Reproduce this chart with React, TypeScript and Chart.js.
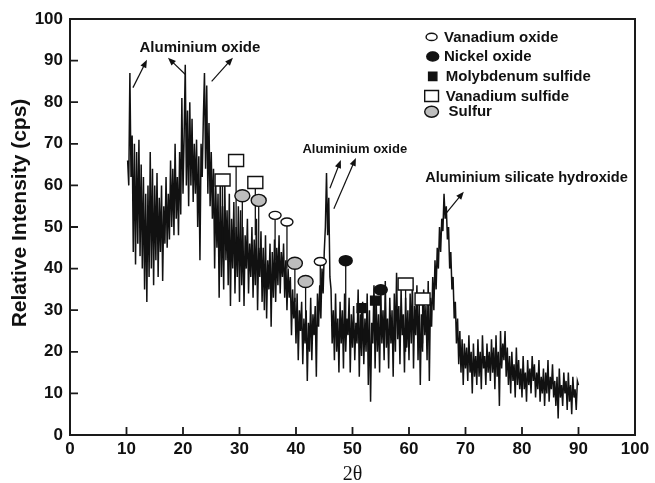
import { useEffect, useRef } from 'react';
import { Chart, registerables } from 'chart.js';

Chart.register(...registerables);

// Sampling grid of the scan (degrees 2θ)
const THETA_START = 10.2;
const THETA_STEP = 0.2;

// Relative intensity (cps), one row per 2°
const INTENSITY = [
  66, 60, 87, 62, 72, 44, 70, 41, 68, 46,
  71, 43, 65, 40, 62, 35, 58, 32, 60, 38,
  68, 40, 64, 36, 60, 42, 63, 38, 57, 44,
  60, 37, 55, 46, 62, 45, 58, 47, 66, 50,
  64, 48, 70, 52, 62, 48, 68, 53, 81, 58,
  72, 89, 60, 78, 55, 80, 60, 76, 56, 70,
  58, 71, 50, 67, 42, 70, 62, 76, 87, 64,
  84, 58, 75, 55, 68, 52, 64, 40, 60, 45,
  58, 33, 62, 38, 55, 35, 60, 42, 54, 36,
  58, 31, 52, 40, 56, 34, 50, 38, 55, 32,
  54, 36, 50, 31, 48, 40, 52, 34, 46, 38,
  50, 33, 47, 36, 52, 30, 45, 38, 49, 32,
  45, 30, 48, 28, 42, 35, 46, 26, 44, 33,
  47, 32, 45, 36, 48, 34, 44, 38, 46, 33,
  42, 30, 40, 33, 38, 24, 35, 28, 33, 22,
  34, 18, 30, 25, 32, 17, 28, 22, 30, 13,
  27, 20, 33, 18, 29, 24, 31, 14, 34, 26,
  36, 28, 40, 34, 44, 50, 63, 48, 57, 38,
  35, 22, 30, 18, 34, 20, 28, 15, 32, 22,
  30, 16, 34, 20, 28, 24, 33, 15, 29, 21,
  31, 18, 27, 22, 35, 14, 29, 19, 32, 17,
  28, 20, 34, 12, 30, 8, 27, 22, 36, 16,
  32, 20, 29, 15, 34, 22, 30, 18, 37, 21,
  28, 16, 33, 22, 30, 14, 34, 20, 39, 23,
  31, 17, 35, 24, 29, 15, 33, 21, 30, 18,
  34, 22, 37, 16, 31, 24, 36, 18, 32, 12,
  29, 20, 35, 24, 31, 18, 37, 13, 33, 26,
  38, 30, 42, 35, 45, 40, 50, 44, 52, 49,
  58, 52, 55, 47, 50, 40, 44, 35, 38, 28,
  32, 22, 28, 17, 25, 15, 23, 12, 22, 16,
  21, 13, 24, 15, 20, 10, 22, 14, 19, 12,
  23, 14, 20, 11, 24, 16, 19, 12, 22, 15,
  20, 13, 23, 15, 21, 11, 24, 14, 20, 7,
  25, 16, 22, 18, 25, 14, 21, 12, 19, 10,
  20, 13, 17, 9, 21, 12, 18, 11, 16, 9,
  19, 11, 15, 8, 18, 12, 16, 10, 19, 13,
  17, 9, 15, 11, 18, 8, 14, 10, 16, 7,
  15, 10, 18, 8, 14, 11, 17, 9, 13, 7,
  14, 4, 16, 9, 12, 7, 15, 10, 13, 6,
  15, 8, 12, 5, 14, 9, 11, 6, 13, 12,
];

const X_TICKS = [0, 10, 20, 30, 40, 50, 60, 70, 80, 90, 100];
const Y_TICKS = [0, 10, 20, 30, 40, 50, 60, 70, 80, 90, 100];

// Phase markers on the pattern
const MARKER_KIND = [
  'openSquare', 'openSquare', 'openSquare', 'grayEllipse', 'grayEllipse',
  'openEllipse', 'openEllipse', 'grayEllipse', 'grayEllipse', 'openEllipse',
  'filledEllipse', 'filledSquare', 'filledSquare', 'filledEllipse', 'openSquare', 'openSquare',
];
const MARKER_THETA = [27.0, 29.4, 32.8, 30.5, 33.4, 36.3, 38.4, 39.8, 41.7, 44.3, 48.8, 51.6, 54.0, 55.0, 59.4, 62.4];
const MARKER_VALUE = [61.3, 66.0, 60.7, 57.5, 56.4, 52.8, 51.2, 41.3, 36.9, 41.7, 41.9, 30.5, 32.3, 34.9, 36.3, 32.7];
const MARKER_STEM_END = [45, 46, 48, 45, 44, 42, 40, 32, 28, 33, 25, 22, 24, 25, 20, 22];

// Legend (drawn inside the plot)
const LEGEND_LABELS = ['Vanadium oxide', 'Nickel oxide', 'Molybdenum sulfide', 'Vanadium sulfide', 'Sulfur'];
const LEGEND_KIND = ['openEllipse', 'filledEllipse', 'filledSquare', 'openSquare', 'grayEllipse'];
const LEGEND_THETA = [64.0, 64.2, 64.2, 64.0, 64.0];
const LEGEND_VALUE = [95.7, 91.0, 86.2, 81.5, 77.7];
const LEGEND_TEXT_THETA = [66.2, 66.2, 66.5, 66.5, 67.0];

// Peak labels
const LABEL_TEXTS = ['Aluminium oxide', 'Aluminium oxide', 'Aluminium silicate hydroxide'];
const LABEL_THETA = [23.0, 50.4, 80.8];
const LABEL_VALUE = [93.1, 68.6, 61.75];
const LABEL_SIZE = [15, 13, 14.6];

// Arrows (tail -> head)
const ARROW_FROM_THETA = [11.14, 20.47, 25.07, 46.0, 46.7, 66.34];
const ARROW_FROM_VALUE = [83.5, 86.6, 85.0, 59.3, 54.4, 52.9];
const ARROW_TO_THETA = [13.62, 17.34, 28.83, 47.94, 50.6, 69.7];
const ARROW_TO_VALUE = [90.2, 90.7, 90.7, 66.1, 66.6, 58.5];

const SANS = '"Liberation Sans", Arial, Helvetica, sans-serif';
const SERIF = '"Liberation Serif", "Times New Roman", serif';
const INK = '#111';

const MARKER_SIZE: Record<string, [number, number]> = {
  openEllipse: [12, 8],
  filledEllipse: [13, 10],
  filledSquare: [9, 9],
  openSquare: [15, 12],
  grayEllipse: [15, 12],
};

function drawMarker(ctx: CanvasRenderingContext2D, kind: string, cx: number, cy: number, scale = 1) {
  const [w0, h0] = MARKER_SIZE[kind];
  const w = w0 * scale;
  const h = h0 * scale;
  ctx.save();
  ctx.lineWidth = 1.4;
  ctx.strokeStyle = INK;
  if (kind === 'openSquare' || kind === 'filledSquare') {
    ctx.beginPath();
    ctx.rect(cx - w / 2, cy - h / 2, w, h);
    ctx.fillStyle = kind === 'filledSquare' ? INK : '#fff';
    ctx.fill();
    ctx.stroke();
  } else {
    ctx.beginPath();
    ctx.ellipse(cx, cy, w / 2, h / 2, 0, 0, Math.PI * 2);
    ctx.fillStyle = kind === 'filledEllipse' ? INK : kind === 'grayEllipse' ? '#bdbdbd' : '#fff';
    ctx.fill();
    ctx.stroke();
  }
  ctx.restore();
  return h;
}

function drawArrow(ctx: CanvasRenderingContext2D, x1: number, y1: number, x2: number, y2: number) {
  const ang = Math.atan2(y2 - y1, x2 - x1);
  const len = 8;
  const half = 3.2;
  ctx.save();
  ctx.strokeStyle = INK;
  ctx.fillStyle = INK;
  ctx.lineWidth = 1.2;
  ctx.beginPath();
  ctx.moveTo(x1, y1);
  ctx.lineTo(x2 - Math.cos(ang) * len * 0.8, y2 - Math.sin(ang) * len * 0.8);
  ctx.stroke();
  ctx.beginPath();
  ctx.moveTo(x2, y2);
  ctx.lineTo(x2 - Math.cos(ang) * len - Math.sin(ang) * half, y2 - Math.sin(ang) * len + Math.cos(ang) * half);
  ctx.lineTo(x2 - Math.cos(ang) * len + Math.sin(ang) * half, y2 - Math.sin(ang) * len - Math.cos(ang) * half);
  ctx.closePath();
  ctx.fill();
  ctx.restore();
}

const overlayPlugin = {
  id: 'xrdOverlay',
  afterDatasetsDraw(chart: any) {
    const { ctx, chartArea } = chart;
    const xs = chart.scales.x;
    const ys = chart.scales.y;
    const { left, right, top, bottom } = chartArea;

    // stems + markers
    for (let i = 0; i < MARKER_KIND.length; i++) {
      const cx = xs.getPixelForValue(MARKER_THETA[i]);
      const cy = ys.getPixelForValue(MARKER_VALUE[i]);
      const h = MARKER_SIZE[MARKER_KIND[i]][1];
      const yEnd = ys.getPixelForValue(MARKER_STEM_END[i]);
      ctx.save();
      ctx.strokeStyle = INK;
      ctx.lineWidth = 1.3;
      ctx.beginPath();
      ctx.moveTo(cx, cy + h / 2);
      ctx.lineTo(cx, yEnd);
      ctx.stroke();
      ctx.restore();
      drawMarker(ctx, MARKER_KIND[i], cx, cy);
    }

    // arrows
    for (let i = 0; i < ARROW_FROM_THETA.length; i++) {
      drawArrow(
        ctx,
        xs.getPixelForValue(ARROW_FROM_THETA[i]),
        ys.getPixelForValue(ARROW_FROM_VALUE[i]),
        xs.getPixelForValue(ARROW_TO_THETA[i]),
        ys.getPixelForValue(ARROW_TO_VALUE[i]),
      );
    }

    // labels
    ctx.save();
    ctx.fillStyle = INK;
    ctx.textAlign = 'center';
    ctx.textBaseline = 'middle';
    for (let i = 0; i < LABEL_TEXTS.length; i++) {
      ctx.font = `bold ${LABEL_SIZE[i]}px ${SANS}`;
      ctx.fillText(LABEL_TEXTS[i], xs.getPixelForValue(LABEL_THETA[i]), ys.getPixelForValue(LABEL_VALUE[i]));
    }
    ctx.restore();

    // legend
    for (let i = 0; i < LEGEND_LABELS.length; i++) {
      const cy = ys.getPixelForValue(LEGEND_VALUE[i]);
      drawMarker(ctx, LEGEND_KIND[i], xs.getPixelForValue(LEGEND_THETA[i]), cy, 0.92);
      ctx.save();
      ctx.fillStyle = INK;
      ctx.font = `bold 15px ${SANS}`;
      ctx.textAlign = 'left';
      ctx.textBaseline = 'middle';
      ctx.fillText(LEGEND_LABELS[i], xs.getPixelForValue(LEGEND_TEXT_THETA[i]), cy + 0.5);
      ctx.restore();
    }

    // frame
    ctx.save();
    ctx.strokeStyle = '#1a1a1a';
    ctx.lineWidth = 2;
    ctx.strokeRect(left, top, right - left, bottom - top);

    // inward ticks
    ctx.lineWidth = 1.8;
    ctx.beginPath();
    for (const v of X_TICKS) {
      if (v === 0 || v === 100) continue;
      const px = xs.getPixelForValue(v);
      ctx.moveTo(px, bottom);
      ctx.lineTo(px, bottom - 8);
    }
    for (const v of Y_TICKS) {
      if (v === 0 || v === 100) continue;
      const py = ys.getPixelForValue(v);
      ctx.moveTo(left, py);
      ctx.lineTo(left + 8, py);
    }
    ctx.stroke();
    ctx.restore();

    // axis titles
    ctx.save();
    ctx.fillStyle = INK;
    ctx.textAlign = 'center';
    ctx.textBaseline = 'middle';
    ctx.font = `20px ${SERIF}`;
    ctx.fillText('2θ', (left + right) / 2, 475);
    ctx.translate(20, 213);
    ctx.rotate(-Math.PI / 2);
    ctx.font = `bold 21px ${SANS}`;
    ctx.fillText('Relative Intensity (cps)', 0, 0);
    ctx.restore();
  },
};

export default function App() {
  const canvasRef = useRef<HTMLCanvasElement | null>(null);

  useEffect(() => {
    const canvas = canvasRef.current;
    if (!canvas) return;
    const points = INTENSITY.map((y, i) => ({ x: +(THETA_START + THETA_STEP * i).toFixed(2), y }));
    const chart = new Chart(canvas, {
      type: 'line',
      data: {
        datasets: [
          {
            data: points,
            borderColor: '#111',
            borderWidth: 1.5,
            pointRadius: 0,
            tension: 0,
            fill: false,
          },
        ],
      },
      options: {
        responsive: false,
        animation: false,
        layout: { padding: { top: 19, right: 20, left: 0, bottom: 0 } },
        plugins: { legend: { display: false }, tooltip: { enabled: false } },
        scales: {
          x: {
            type: 'linear',
            min: 0,
            max: 100,
            afterBuildTicks: (s: any) => {
              s.ticks = X_TICKS.map((v) => ({ value: v }));
            },
            afterFit: (s: any) => {
              s.height = 48;
            },
            ticks: {
              font: { family: SANS, size: 17, weight: 'bold' },
              color: INK,
              padding: 4,
              maxRotation: 0,
              autoSkip: false,
            },
            grid: { display: false, drawTicks: false },
            border: { display: false },
          },
          y: {
            type: 'linear',
            min: 0,
            max: 100,
            afterBuildTicks: (s: any) => {
              s.ticks = Y_TICKS.map((v) => ({ value: v }));
            },
            afterFit: (s: any) => {
              s.width = 70;
            },
            ticks: {
              font: { family: SANS, size: 17, weight: 'bold' },
              color: INK,
              padding: 7,
              autoSkip: false,
            },
            grid: { display: false, drawTicks: false },
            border: { display: false },
          },
        },
      },
      plugins: [overlayPlugin],
    } as any);
    return () => chart.destroy();
  }, []);

  return (
    <div style={{ position: 'fixed', left: 0, top: 0, width: 655, height: 483, background: '#fff' }}>
      <canvas ref={canvasRef} width={655} height={483} style={{ display: 'block' }} />
    </div>
  );
}
